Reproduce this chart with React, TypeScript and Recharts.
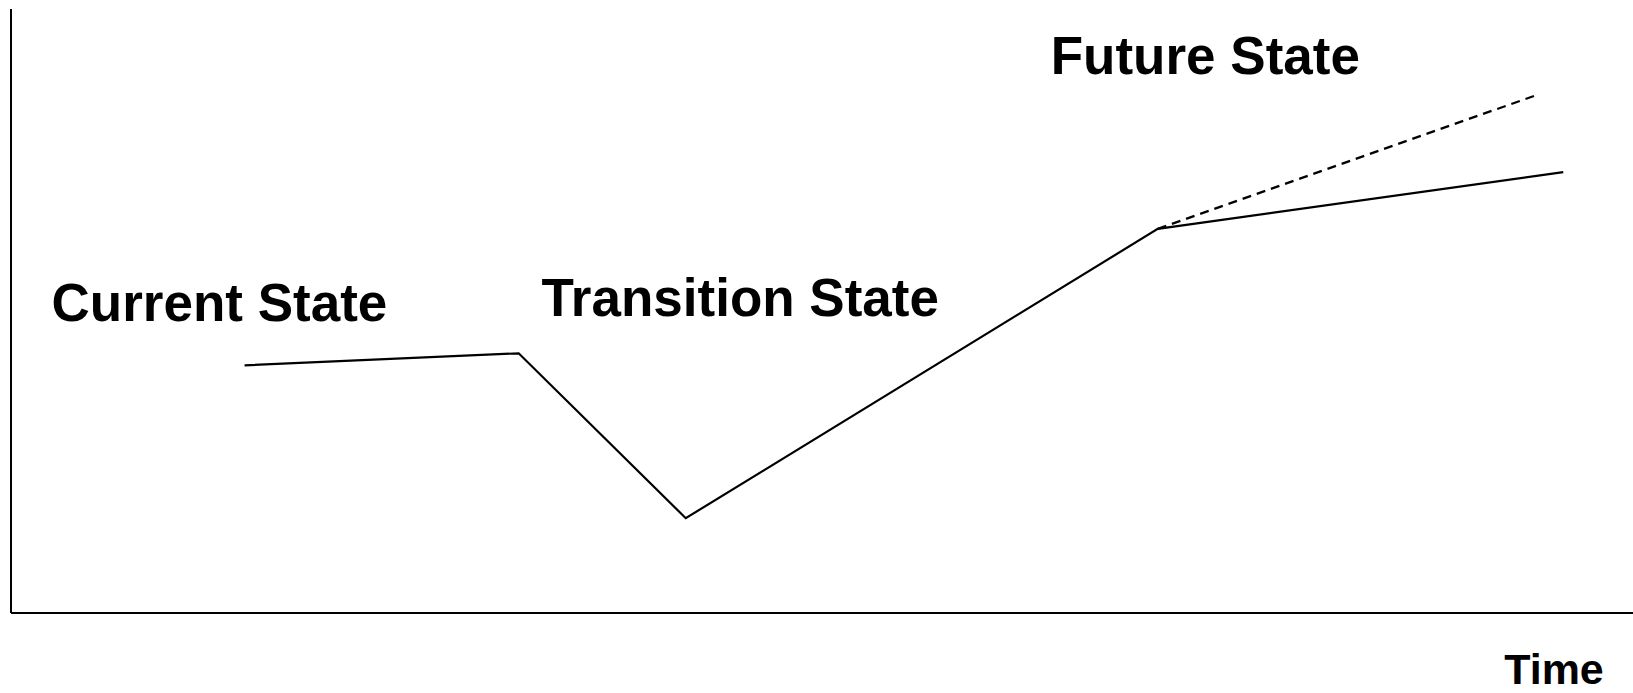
import { LineChart, Line, XAxis, YAxis, ReferenceDot } from "recharts";

// time (0-100) and level (0-100) in arbitrary units
const mainX = [14.4, 31.3, 41.6, 70.7, 95.7];
const mainY = [41.0, 43.0, 15.7, 63.6, 73.0];
const altX = [70.7, 94.2];
const altY = [63.6, 85.9];

const stateLabels = ["Current State", "Transition State", "Future State"];
const stateLabelX = [2.5, 32.7, 64.1];
const stateLabelY = [48.4, 49.2, 89.2];

const mainData = mainX.map((x, i) => ({ x, y: mainY[i] }));
const altData = altX.map((x, i) => ({ x, y: altY[i] }));

const font = "'Liberation Sans', Arial, Helvetica, sans-serif";

const TextAt = (text: string, size: number, anchor: "start" | "end") => (props: any) => {
  const vb = props.viewBox || {};
  return (
    <text x={vb.x} y={vb.y} fontFamily={font} fontWeight="bold" fontSize={size} fill="#000" textAnchor={anchor}>
      {text}
    </text>
  );
};

const App = () => {
  return (
    <div style={{ position: "absolute", left: 0, top: 0, width: 1633, height: 693, background: "#fff" }}>
      <LineChart width={1633} height={693} margin={{ top: 9, right: 0, bottom: 79, left: 10 }}>
        <XAxis
          dataKey="x"
          type="number"
          domain={[0, 100]}
          allowDataOverflow
          tick={false}
          tickLine={false}
          height={1}
          axisLine={{ stroke: "#000", strokeWidth: 2 }}
        />
        <YAxis
          dataKey="y"
          type="number"
          domain={[0, 100]}
          allowDataOverflow
          tick={false}
          tickLine={false}
          width={1}
          axisLine={{ stroke: "#000", strokeWidth: 2 }}
        />
        <Line
          data={altData}
          dataKey="y"
          type="linear"
          stroke="#000"
          strokeWidth={2.2}
          strokeDasharray="9 6"
          dot={false}
          activeDot={false}
          isAnimationActive={false}
        />
        <Line
          data={mainData}
          dataKey="y"
          type="linear"
          stroke="#000"
          strokeWidth={2.2}
          dot={false}
          activeDot={false}
          isAnimationActive={false}
        />
        {stateLabels.map((s, i) => (
          <ReferenceDot
            key={s}
            x={stateLabelX[i]}
            y={stateLabelY[i]}
            r={0}
            fill="none"
            stroke="none"
            ifOverflow="visible"
            label={TextAt(s, 53, "start")}
          />
        ))}
        <ReferenceDot x={98.2} y={-11.75} r={0} fill="none" stroke="none" ifOverflow="visible" label={TextAt("Time", 43, "end")} />
      </LineChart>
    </div>
  );
};

export default App;
